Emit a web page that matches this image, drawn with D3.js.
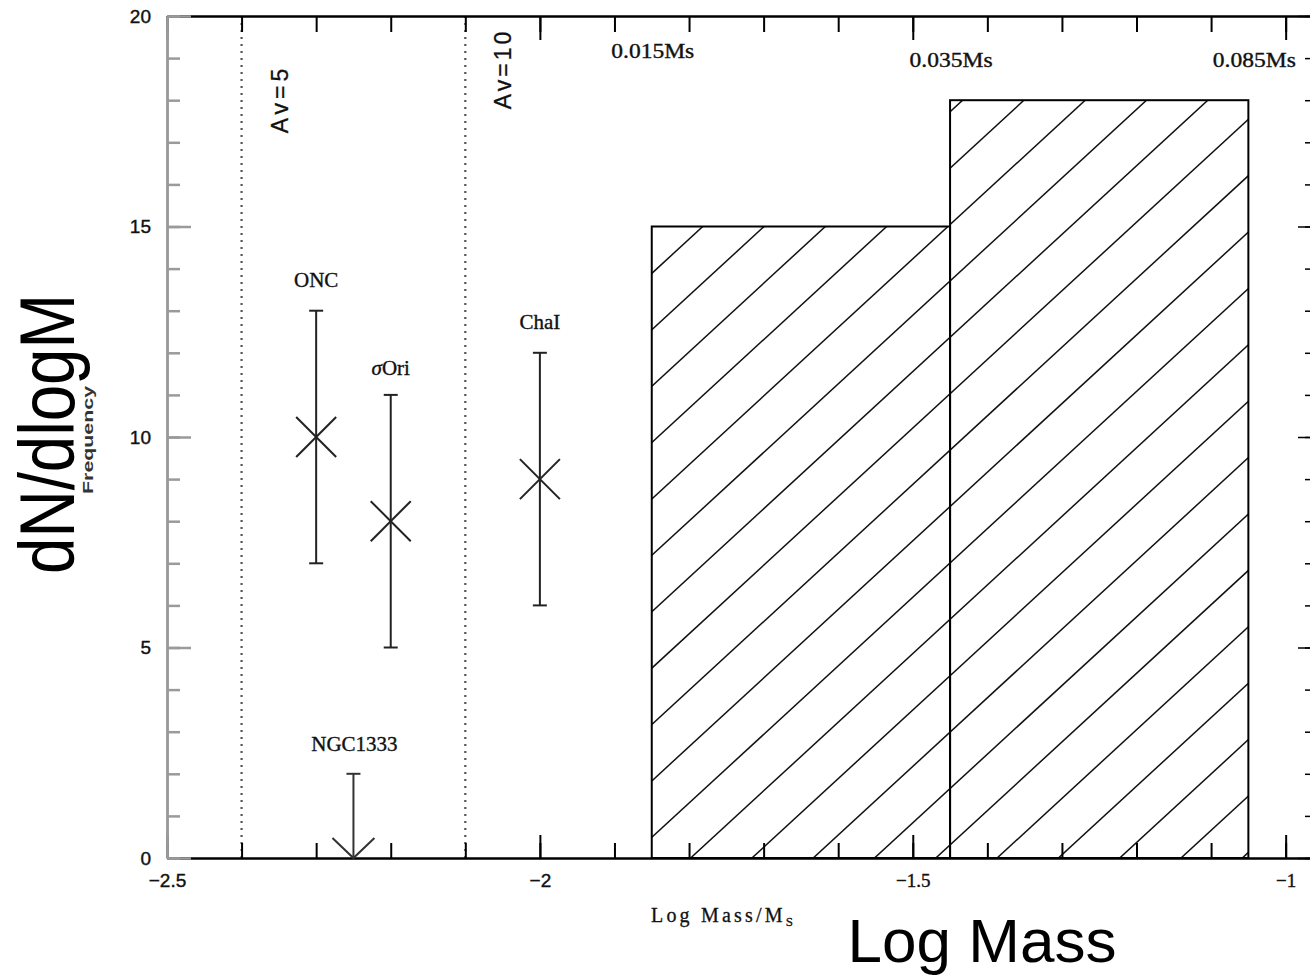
<!DOCTYPE html>
<html>
<head>
<meta charset="utf-8">
<script src="https://cdn.jsdelivr.net/npm/d3@7"></script>
<style>
  html, body { margin: 0; padding: 0; background: #fff; }
  svg { display: block; }
</style>
</head>
<body>
<svg id="chart" width="1310" height="975"></svg>
<script>
// Substellar mass function: histogram of counts with cluster comparison points

// Histogram bins (log mass edges) and counts
const binEdges = [-1.85, -1.45, -1.05];
const binCounts = [15, 18];

// Mass labels along the top, placed at the bin edges
const massLabels = ["0.015Ms", "0.035Ms", "0.085Ms"];
const massLabelLogM = [-1.85, -1.45, -1.05];

// Cluster measurements with error bars
const clusterNames = ["ONC", "σOri", "ChaI"];
const clusterLogM = [-2.3, -2.2, -2.0];
const clusterValue = [10, 8, 9];
const clusterLow = [7, 5, 6];
const clusterHigh = [13, 11, 12];

// Upper limit
const limitName = "NGC1333";
const limitLogM = -2.25;
const limitValue = 2;

// Extinction limits
const avLabels = ["Av=5", "Av=10"];
const avLogM = [-2.4, -2.1];

// Axis ticks
const xMajorTicks = [-2.5, -2, -1.5, -1];
const xMinorTicks = d3.range(-25, -9).map(v => v / 10);
const yMajorTicks = [0, 5, 10, 15, 20];
const yMinorTicks = d3.range(0, 21);

const svg = d3.select("#chart");
const x = d3.scaleLinear().domain([-2.5, -0.962]).range([167, 1314]);
const y = d3.scaleLinear().domain([0, 20]).range([858, 16]);

const [x0, x1] = x.range();
const [y0, y1] = y.range();

const SANS = "Liberation Sans, Arial, sans-serif";
const SERIF = "Liberation Serif, Times New Roman, serif";

// ---- hatched histogram ----
const defs = svg.append("defs");
const clip = defs.append("clipPath").attr("id", "barClip");
binCounts.forEach((c, i) => {
  clip.append("rect")
    .attr("x", x(binEdges[i]))
    .attr("y", y(c))
    .attr("width", x(binEdges[i + 1]) - x(binEdges[i]))
    .attr("height", y(0) - y(c));
});

const hatchStep = 61.3, hatchSlope = 0.92;
const hatchAnchorX = x(binEdges[0]) + 51, hatchAnchorY = y(binCounts[0]);
const hatch = svg.append("g").attr("clip-path", "url(#barClip)");
d3.range(-30, 31).forEach(k => {
  const xk = hatchAnchorX + k * hatchStep;
  hatch.append("line")
    .attr("x1", xk - (900 - hatchAnchorY) / hatchSlope).attr("y1", 900)
    .attr("x2", xk + hatchAnchorY / hatchSlope).attr("y2", 0)
    .attr("stroke", "#111").attr("stroke-width", 1.5);
});

binCounts.forEach((c, i) => {
  svg.append("rect")
    .attr("x", x(binEdges[i]))
    .attr("y", y(c))
    .attr("width", x(binEdges[i + 1]) - x(binEdges[i]))
    .attr("height", y(0) - y(c))
    .attr("fill", "none").attr("stroke", "#000").attr("stroke-width", 2);
});

// ---- extinction limits ----
avLogM.forEach(v => {
  svg.append("line")
    .attr("x1", x(v)).attr("x2", x(v)).attr("y1", y1).attr("y2", y0)
    .attr("stroke", "#555").attr("stroke-width", 2.2)
    .attr("stroke-dasharray", "2,5");
});
const avPos = [{ dx: 46, cy: 99, ls: 4 }, { dx: 46, cy: 69, ls: 3 }];
avLabels.forEach((t, i) => {
  const bx = x(avLogM[i]) + avPos[i].dx;
  svg.append("text")
    .attr("transform", `translate(${bx},${avPos[i].cy}) rotate(-90)`)
    .attr("text-anchor", "middle")
    .attr("font-family", SANS)
    .attr("font-size", 23)
    .attr("letter-spacing", avPos[i].ls)
    .attr("fill", "#111")
    .attr("stroke", "#111").attr("stroke-width", 0.3)
    .text(t);
});

// ---- axes ----
function styleAxis(g, color, width) {
  g.selectAll("path.domain").attr("stroke", color).attr("stroke-width", width);
  g.selectAll(".tick line").attr("stroke", color).attr("stroke-width", width);
}

// bottom
const gBottomMinor = svg.append("g").attr("transform", `translate(0,${y0})`)
  .call(d3.axisBottom(x).tickValues(xMinorTicks).tickSizeInner(-15).tickSizeOuter(0).tickFormat(""));
styleAxis(gBottomMinor, "#000", 2);
const gBottom = svg.append("g").attr("transform", `translate(0,${y0})`)
  .call(d3.axisBottom(x).tickValues(xMajorTicks).tickSizeInner(-23).tickSizeOuter(0)
    .tickPadding(16).tickFormat(d => d3.format("")(d).replace("-", "−")));
styleAxis(gBottom, "#000", 2);
gBottom.selectAll(".tick text")
  .attr("font-size", 19)
  .attr("fill", "#111")
  .attr("stroke", "#111").attr("stroke-width", 0.4)
  .attr("font-family", d => d < -1.75 ? SANS : SERIF);

// top
const gTopMinor = svg.append("g").attr("transform", `translate(0,${y1})`)
  .call(d3.axisTop(x).tickValues(xMinorTicks).tickSizeInner(-16).tickSizeOuter(0).tickFormat(""));
styleAxis(gTopMinor, "#000", 2);
const gTop = svg.append("g").attr("transform", `translate(0,${y1})`)
  .call(d3.axisTop(x).tickValues(xMajorTicks).tickSizeInner(-24).tickSizeOuter(0).tickFormat(""));
styleAxis(gTop, "#000", 2);

// left
const gLeftMinor = svg.append("g").attr("transform", `translate(${x0},0)`)
  .call(d3.axisLeft(y).tickValues(yMinorTicks).tickSizeInner(-13).tickSizeOuter(0).tickFormat(""));
styleAxis(gLeftMinor, "#9a9a9a", 2.5);
const gLeft = svg.append("g").attr("transform", `translate(${x0},0)`)
  .call(d3.axisLeft(y).tickValues(yMajorTicks).tickSizeInner(-24).tickSizeOuter(0).tickPadding(16));
styleAxis(gLeft, "#9a9a9a", 2.5);
gLeft.selectAll(".tick text")
  .attr("font-size", 19)
  .attr("font-family", SANS)
  .attr("fill", "#111")
  .attr("stroke", "#111").attr("stroke-width", 0.4);

// right
const gRightMinor = svg.append("g").attr("transform", `translate(${x1},0)`)
  .call(d3.axisRight(y).tickValues(yMinorTicks).tickSizeInner(-9).tickSizeOuter(0).tickFormat(""));
styleAxis(gRightMinor, "#000", 1.5);
const gRight = svg.append("g").attr("transform", `translate(${x1},0)`)
  .call(d3.axisRight(y).tickValues(yMajorTicks).tickSizeInner(-16).tickSizeOuter(0).tickFormat(""));
styleAxis(gRight, "#000", 1.5);

// ---- top mass labels ----
const massLabelY = [58, 67, 67];
massLabels.forEach((t, i) => {
  svg.append("text")
    .attr("x", x(massLabelLogM[i]) + (i === 2 ? 6 : 1))
    .attr("y", massLabelY[i])
    .attr("text-anchor", "middle")
    .attr("font-family", SERIF)
    .attr("font-size", 20)
    .attr("textLength", 83)
    .attr("lengthAdjust", "spacingAndGlyphs")
    .attr("fill", "#111")
    .attr("stroke", "#111").attr("stroke-width", 0.35)
    .text(t);
});

// ---- cluster points ----
const ink = "#222";
const capHalf = 7, markHalf = 20;
clusterNames.forEach((name, i) => {
  const cx = x(clusterLogM[i]);
  const g = svg.append("g").attr("stroke", ink).attr("stroke-width", 2).attr("fill", "none");
  g.append("line").attr("x1", cx).attr("x2", cx).attr("y1", y(clusterLow[i])).attr("y2", y(clusterHigh[i]));
  [clusterLow[i], clusterHigh[i]].forEach(v => {
    g.append("line").attr("x1", cx - capHalf).attr("x2", cx + capHalf).attr("y1", y(v)).attr("y2", y(v));
  });
  const cy = y(clusterValue[i]);
  g.append("line").attr("x1", cx - markHalf).attr("y1", cy - markHalf).attr("x2", cx + markHalf).attr("y2", cy + markHalf);
  g.append("line").attr("x1", cx - markHalf).attr("y1", cy + markHalf).attr("x2", cx + markHalf).attr("y2", cy - markHalf);

  const label = svg.append("text")
    .attr("x", cx).attr("y", y(clusterHigh[i]) - (name === "σOri" ? 20 : 24))
    .attr("text-anchor", "middle")
    .attr("font-family", SERIF)
    .attr("font-size", 21)
    .attr("fill", "#111")
    .attr("stroke", "#111").attr("stroke-width", 0.35);
  if (name.startsWith("σ")) {
    label.append("tspan").attr("font-style", "italic").text("σ");
    label.append("tspan").text(name.slice(1));
  } else {
    label.text(name);
  }
});

// ---- upper limit ----
{
  const lx = x(limitLogM);
  const g = svg.append("g").attr("stroke", "#333").attr("stroke-width", 2).attr("fill", "none");
  g.append("line").attr("x1", lx).attr("x2", lx).attr("y1", y(limitValue)).attr("y2", y(0));
  g.append("line").attr("x1", lx - capHalf).attr("x2", lx + capHalf).attr("y1", y(limitValue)).attr("y2", y(limitValue));
  g.append("path").attr("d", `M${lx - 21},${y(0) - 20}L${lx},${y(0)}L${lx + 21},${y(0) - 20}`);
  svg.append("text")
    .attr("x", lx + 1).attr("y", y(limitValue) - 23)
    .attr("text-anchor", "middle")
    .attr("font-family", SERIF)
    .attr("font-size", 21)
    .attr("fill", "#111")
    .attr("stroke", "#111").attr("stroke-width", 0.35)
    .text(limitName);
}

// ---- axis titles ----
const xt = svg.append("text")
  .attr("x", 651).attr("y", 922)
  .attr("font-family", SERIF)
  .attr("font-size", 20)
  .attr("letter-spacing", 3.2)
  .attr("fill", "#111")
  .attr("stroke", "#111").attr("stroke-width", 0.3);
xt.append("tspan").text("Log Mass/M");
xt.append("tspan").attr("font-size", 13).attr("dy", 4).attr("letter-spacing", 0).text("S");

svg.append("text")
  .attr("transform", "translate(93,440) rotate(-90)")
  .attr("text-anchor", "middle")
  .attr("font-family", SANS)
  .attr("font-size", 15)
  .attr("font-weight", "bold")
  .attr("textLength", 108)
  .attr("lengthAdjust", "spacingAndGlyphs")
  .attr("fill", "#333")
  .text("Frequency");

// Large annotations
svg.append("text")
  .attr("x", 982).attr("y", 962)
  .attr("text-anchor", "middle")
  .attr("font-family", SANS)
  .attr("font-size", 62)
  .attr("fill", "#000")
  .text("Log Mass");

svg.append("text")
  .attr("transform", "translate(74,434) rotate(-90)")
  .attr("text-anchor", "middle")
  .attr("font-family", SANS)
  .attr("font-size", 78)
  .attr("textLength", 280)
  .attr("lengthAdjust", "spacingAndGlyphs")
  .attr("fill", "#000")
  .text("dN/dlogM");
</script>
</body>
</html>
